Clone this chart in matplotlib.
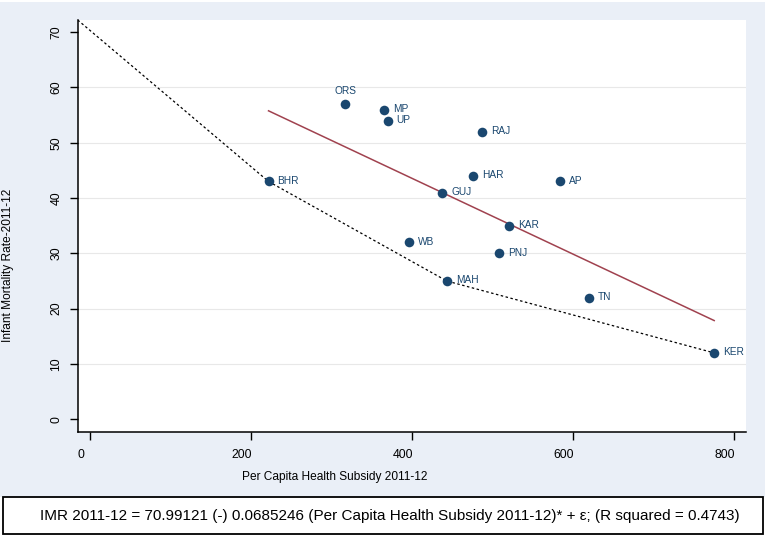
import matplotlib
matplotlib.use('Agg')
import matplotlib.pyplot as plt
import matplotlib.transforms as mtransforms
from matplotlib.patches import Rectangle
import numpy as np

plt.rcParams['font.family'] = ['Liberation Sans', 'DejaVu Sans']

# state level values
states = ['ORS', 'MP', 'UP', 'RAJ', 'HAR', 'AP', 'GUJ', 'BHR', 'KAR', 'WB', 'PNJ', 'MAH', 'TN', 'KER']
subsidy = [317.5, 365, 370, 487.5, 476.5, 584.5, 437.5, 222, 521, 396, 508, 443.5, 619.5, 775.5]
imr = [57, 56, 54, 52, 44, 43, 41, 43, 35, 32, 30, 25, 22, 12]

# fitted line from the note
intercept = 70.99121
slope = -0.0685246

# lower envelope (dotted)
frontier_x = [-15, 222, 443.5, 775.5]
frontier_y = [72.2, 43, 25, 12]

x_ticks = [0, 200, 400, 600, 800]
y_ticks = [0, 10, 20, 30, 40, 50, 60, 70]

navy = '#1a476f'
bg = '#eaeff7'

W, H = 765, 541
fig = plt.figure(figsize=(W / 100, H / 100), dpi=100, facecolor='white')

# graph region background + note box
fig.patches.append(Rectangle((0, 1 - 497 / H), 1, (497 - 2) / H, transform=fig.transFigure,
                             facecolor=bg, edgecolor='none', zorder=-2))
fig.patches.append(Rectangle((3 / W, 1 - 534 / H), (762.5 - 3) / W, (534 - 497) / H,
                             transform=fig.transFigure, facecolor='white', edgecolor='black',
                             linewidth=1.3, zorder=-1))

ax = fig.add_axes([77.7 / W, 1 - 432 / H, (746 - 77.7) / W, (432 - 20) / H])
ax.set_facecolor('white')
ax.set_xlim(-15, 815)
ax.set_ylim(-2.3, 72.2)

for v in y_ticks[1:-1]:
    ax.axhline(v, color='#e8e8e8', linewidth=0.8, zorder=0)

ax.plot(frontier_x, frontier_y, color='black', linewidth=0.9, linestyle=(0, (2, 2)), zorder=2)

fx = np.array([min(subsidy), max(subsidy)])
ax.plot(fx, intercept + slope * fx, color='#a0424f', linewidth=1.1, zorder=2)

ax.scatter(subsidy, imr, s=48, color=navy, zorder=3, linewidths=0)
for name, xv, yv in zip(states, subsidy, imr):
    if name == 'ORS':
        ax.annotate(name, (xv, yv), xytext=(0, 9.5), textcoords='offset points',
                    ha='center', va='center', fontsize=7.3, color=navy)
    else:
        ax.annotate(name, (xv, yv), xytext=(6.5, 0.5), textcoords='offset points',
                    ha='left', va='center', fontsize=7.3, color=navy)

for side in ['top', 'right']:
    ax.spines[side].set_visible(False)
for side in ['left', 'bottom']:
    ax.spines[side].set_linewidth(1.1)

ax.set_xticks(x_ticks)
ax.set_yticks(y_ticks)
ax.tick_params(axis='both', direction='out', length=6, width=1.0, labelsize=8.8, color='black')
ax.tick_params(axis='x', pad=6)
ax.tick_params(axis='y', pad=5)
for lab in ax.get_yticklabels():
    lab.set_rotation(90)
    lab.set_va('center')
shift = mtransforms.ScaledTranslation(-9 / 100, 0, fig.dpi_scale_trans)
for lab in ax.get_xticklabels():
    lab.set_transform(lab.get_transform() + shift)

fig.text(335 / W, 1 - 477 / H, 'Per Capita Health Subsidy 2011-12', ha='center', va='center',
         fontsize=8.6)
fig.text(8 / W, 1 - 265 / H, 'Infant Mortality Rate-2011-12', ha='center', va='center',
         rotation=90, fontsize=8.6)

fig.text(389.5 / W, 1 - 516 / H,
         'IMR 2011-12 = 70.99121 (-) 0.0685246 (Per Capita Health Subsidy 2011-12)* + \u03b5; (R squared = 0.4743)',
         ha='center', va='center', fontsize=11.0, zorder=3)

fig.savefig('out.png', dpi=100, facecolor='white')
